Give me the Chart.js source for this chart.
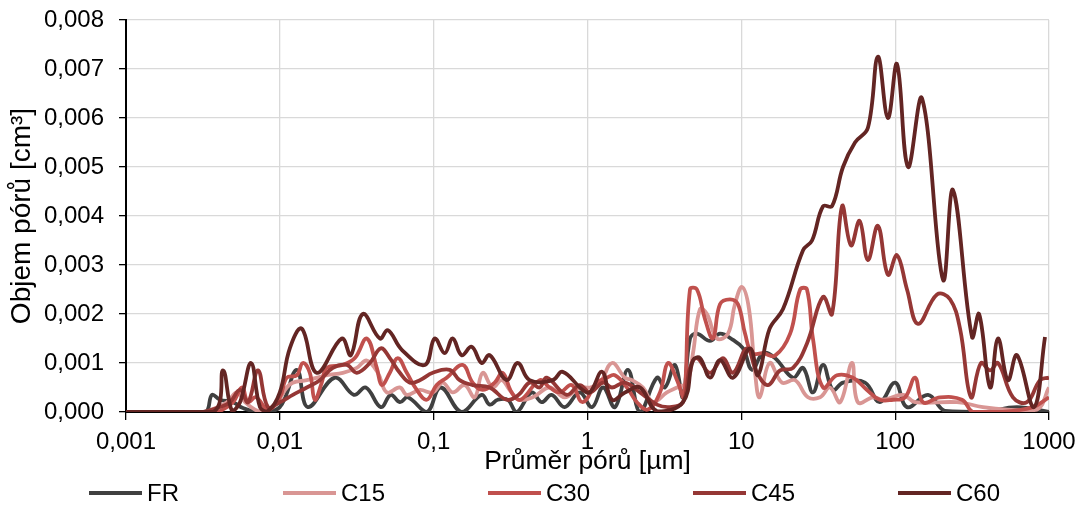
<!DOCTYPE html>
<html>
<head>
<meta charset="utf-8">
<title>Objem pórů</title>
<script src="https://cdn.jsdelivr.net/npm/chart.js@4.4.1/dist/chart.umd.min.js"></script>
<style>
    body { margin: 0; background: #fff; }
    #wrap { position: relative; width: 1083px; height: 510px; }
    #chart { display: block; }
    #legend { position: absolute; left: 0; top: 479px; width: 1083px; height: 28px;
              font: 24px "Liberation Sans", Arial, sans-serif; color: #000; }
    .item { position: absolute; top: 0; height: 28px; display: flex; align-items: center; white-space: nowrap; }
    .item .line { display: inline-block; width: 53px; height: 4px; margin-right: 5px; }
</style>
</head>
<body>
<div id="wrap">
    <canvas id="chart" width="1083" height="510"></canvas>
    <div id="legend"></div>
</div>
<script>
// osa x: průměr pórů [µm], log měřítko
const xTickValues = [0.001, 0.01, 0.1, 1, 10, 100, 1000];
const xTickLabels = ['0,001', '0,01', '0,1', '1', '10', '100', '1000'];

const seriesNames = ['FR', 'C15', 'C30', 'C45', 'C60'];
const seriesColors = ['#404040', '#D99694', '#C0504D', '#953735', '#632523'];

// FR
const frX = [0.001, 0.00303, 0.00336, 0.00362, 0.00408, 0.00496, 0.00576, 0.00743, 0.01, 0.01289, 0.0152, 0.02278,
    0.03028, 0.03622, 0.04534, 0.05266, 0.06026, 0.06791, 0.09022, 0.111, 0.152, 0.2051, 0.2312, 0.2607, 0.3028,
    0.3463, 0.4334, 0.5034, 0.5847, 0.7103, 0.8892, 1.07, 1.262, 1.508, 1.833, 2.194, 2.828, 3.187, 3.702, 4.177,
    4.637, 5.146, 6.255, 7.264, 8.827, 10.26, 11.74, 13.84, 16.56, 21.68, 25.18, 29.2, 33.97, 39.4, 45.8, 63.7,
    79.2, 100, 119.4, 163.5, 210.9, 372, 619, 1000];
const frY = [0, 0, 0.00002, 0.00035, 0.00025, 0.0002, 0.00008, 0, 0.0001, 0.00086, 0.0001, 0.0007,
    0.00035, 0.0005, 0.0001, 0.00035, 0.0002, 0.0003, 0, 0.0005, 0, 0.00035, 0.00015, 0.00025, 0.00025,
    0, 0.0004, 0.0002, 0.00035, 0.0001, 0.0004, 0.0001, 0.0005, 0.0001, 0.00086, 0, 0.0007, 0.0005, 0.00096, 0.0003,
    0.0015, 0.0016, 0.00145, 0.0016, 0.00147, 0.0013, 0.00086, 0.0012, 0.0011, 0.0007, 0.0009, 0.0004, 0.00096, 0.00045, 0.0006, 0.0006,
    0.0002, 0.0006, 0.0001, 0.00035, 0.00002, 0, 0.0001, 0];

// C15
const c15X = [0.001, 0.00326, 0.00362, 0.00453, 0.00527, 0.00594, 0.00689, 0.00777, 0.00958, 0.0111, 0.01215, 0.01497,
    0.0202, 0.02568, 0.03165, 0.03675, 0.04334, 0.04958, 0.06026, 0.06689, 0.08128, 0.09875, 0.1144, 0.1329, 0.159,
    0.1847, 0.2081, 0.2418, 0.2766, 0.3119, 0.3569, 0.44, 0.5676, 0.7103, 0.8892, 1.038, 1.206, 1.443, 1.752, 1.947,
    2.295, 2.666, 3.284, 3.814, 4.434, 4.851, 5.385, 5.977, 6.942, 8.189, 9.087, 10.1, 11.22, 12.28, 13.15, 15.27,
    18.39, 22.34, 27.1, 32.53, 37.68, 43.88, 52.4, 57.2, 71.8, 83.4, 112.5, 134.6, 252.3, 372, 533, 836, 1000];
const c15Y = [0, 0, 0.00005, 0.0002, 0.0004, 0.0002, 0.00005, 0, 0.0002, 0.0005, 0.0006, 0.00065,
    0.00075, 0.0008, 0.0009, 0.00105, 0.0008, 0.0004, 0.0005, 0.00035, 0.00045, 0.0004, 0.0006, 0.0004, 0.00055,
    0.0003, 0.0008, 0.0005, 0.00065, 0.00045, 0.00025, 0.0003, 0.0005, 0.0003, 0.0005, 0.0005, 0.0006, 0.001, 0.0007, 0.00065,
    0.0005, 0.0002, 0.0004, 0.0005, 0.0006, 0.0012, 0.0021, 0.002, 0.0015, 0.0016, 0.0022, 0.00255, 0.0021, 0.0008, 0.0003, 0.001,
    0.0006, 0.00065, 0.0003, 0.0003, 0.0005, 0.0002, 0.001, 0.0002, 0.0003, 0.00025, 0.00035, 0.0002, 0.0002, 0.0001, 0.00005, 0.00005, 0.0005];

// C30
const c30X = [0.001, 0.00357, 0.00408, 0.00496, 0.00568, 0.00621, 0.007, 0.00837, 0.01, 0.0111, 0.01289, 0.01411,
    0.01567, 0.01689, 0.01874, 0.0202, 0.02568, 0.03073, 0.03675, 0.04269, 0.04601, 0.05188, 0.05847, 0.06689, 0.07768,
    0.09022, 0.1046, 0.1215, 0.1543, 0.1792, 0.2081, 0.2492, 0.2808, 0.3213, 0.3675, 0.4887, 0.5676, 0.6592, 0.7887,
    0.9298, 1.152, 1.338, 1.508, 1.805, 2.096, 2.473, 2.959, 3.336, 3.875, 4.24, 4.637, 5.146, 5.8, 6.544, 7.264,
    8.437, 9.512, 10.57, 11.74, 13.84, 16.56, 20.76, 24.11, 26.71, 29.2, 33.97, 41.84, 53.2, 65.6, 79.2, 96.9,
    115.9, 134.6, 151.7, 195.7, 272, 321, 480, 787, 1000];
const c30Y = [0, 0, 0.00002, 0.0002, 0.0005, 0.0002, 0.0003, 0.00005, 0.0003, 0.0007, 0.00075, 0.001,
    0.0008, 0.00025, 0.0006, 0.0009, 0.00096, 0.0011, 0.0015, 0.0009, 0.00055, 0.0008, 0.0011, 0.0008, 0.00045,
    0.00025, 0.00055, 0.0007, 0.00096, 0.0006, 0.00045, 0.0006, 0.0008, 0.0004, 0.00025, 0.00065, 0.0005, 0.0004, 0.00055,
    0.0002, 0.0006, 0.0007, 0.00075, 0.0005, 0.0002, 0.00005, 0.0004, 0.001, 0.0006, 0.0003, 0.0025, 0.0025, 0.0019, 0.0015, 0.0022,
    0.0023, 0.0022, 0.0016, 0.0012, 0.0012, 0.00115, 0.0016, 0.0025, 0.0025, 0.0015, 0.0005, 0.00075, 0.0007, 0.00045, 0.00025, 0.00025,
    0.0003, 0.0007, 0.0002, 0.0003, 0.00025, 0, 0, 0.0001, 0.0003];

// C45
const c45X = [0.001, 0.00303, 0.00336, 0.00408, 0.00474, 0.00551, 0.00621, 0.00721, 0.00837, 0.01, 0.01215, 0.01497,
    0.0182, 0.02211, 0.02725, 0.03165, 0.03846, 0.04534, 0.05188, 0.06026, 0.06998, 0.08128, 0.09875, 0.1271, 0.1476,
    0.1792, 0.2312, 0.2982, 0.3569, 0.4208, 0.4887, 0.5427, 0.732, 0.8892, 1.038, 1.262, 1.443, 1.752, 2.194, 2.828,
    3.437, 4.177, 4.637, 5.146, 6.255, 7.6, 8.827, 10.89, 12.64, 14.9, 17.88, 21.68, 26.71, 33.97, 38.86, 45.14,
    51.6, 58.7, 66.5, 77.2, 89.7, 102.8, 119.4, 140.8, 187.1, 227.3, 264, 311, 361, 414, 466, 583, 719, 874, 1000];
const c45Y = [0, 0, 0.00002, 0.0001, 0.0002, 0.00045, 0.0002, 0.00085, 0.0001, 0.0002, 0.00035, 0.0005,
    0.00065, 0.0009, 0.00096, 0.0008, 0.001, 0.0013, 0.0011, 0.0008, 0.0006, 0.00065, 0.0008, 0.00086, 0.00065,
    0.00055, 0.0005, 0.00025, 0.00035, 0.0006, 0.0005, 0.0007, 0.00035, 0.00055, 0.0004, 0.0006, 0.0005, 0.0006, 0.0004, 0.00015,
    0.0001, 0.0002, 0.0009, 0.0011, 0.0008, 0.0011, 0.0008, 0.0013, 0.0008, 0.00055, 0.00085, 0.0009, 0.0014, 0.00235, 0.002, 0.0042,
    0.0034, 0.0039, 0.0031, 0.0038, 0.0028, 0.0032, 0.0025, 0.0018, 0.0024, 0.0023, 0.0017, 0.0003, 0.001, 0.00085, 0.001, 0.0003, 0.0002, 0.00065, 0.0007];

// C60
const c60X = [0.001, 0.00368, 0.00427, 0.00489, 0.00551, 0.0065, 0.00743, 0.00837, 0.01, 0.01161, 0.01389, 0.01739,
    0.02528, 0.02894, 0.03463, 0.04467, 0.05034, 0.06207, 0.08762, 0.1015, 0.1179, 0.1329, 0.152, 0.1766, 0.2051,
    0.2312, 0.2982, 0.3516, 0.4208, 0.5935, 0.6894, 0.9298, 1.038, 1.243, 1.443, 1.752, 2.194, 2.828, 4.177, 4.851,
    5.385, 6.255, 7.264, 8.827, 11.39, 12.83, 15.27, 18.66, 25.18, 28.81, 33.97, 38.86, 45.8, 54.8, 66.5, 77.2,
    89.7, 102.8, 121.2, 149.5, 204.6, 237.7, 316, 351, 414, 466, 541, 619, 799, 942];
const c60Y = [0, 0, 0.00085, 0.00002, 0.0002, 0.001, 0.0001, 0.00002, 0.0004, 0.0013, 0.0017, 0.0008,
    0.0015, 0.00116, 0.002, 0.0015, 0.00167, 0.00127, 0.00096, 0.0015, 0.0012, 0.0015, 0.00116, 0.00133, 0.001,
    0.00116, 0.00065, 0.001, 0.00065, 0.00065, 0.00082, 0.00045, 0.0004, 0.00082, 0.00025, 0.0004, 0.0005, 0.00002, 0.0002, 0.00106,
    0.0011, 0.0007, 0.00106, 0.0007, 0.0013, 0.00075, 0.0017, 0.0021, 0.0033, 0.0035, 0.0042, 0.0042, 0.005, 0.0055, 0.0058, 0.00725,
    0.006, 0.0071, 0.005, 0.0064, 0.0027, 0.00453, 0.00153, 0.002, 0.0005, 0.0015, 0.00065, 0.00116, 0.0001, 0.00153];

const seriesX = [frX, c15X, c30X, c45X, c60X];
const seriesY = [frY, c15Y, c30Y, c45Y, c60Y];

const FONT = '"Liberation Sans", Arial, sans-serif';
Chart.defaults.font.family = FONT;
Chart.defaults.color = '#000';

function toPoints(xs, ys) {
    return xs.map((x, i) => ({ x: x, y: ys[i] }));
}

const datasets = seriesNames.map((name, i) => ({
    label: name,
    data: toPoints(seriesX[i], seriesY[i]),
    borderColor: seriesColors[i],
    backgroundColor: seriesColors[i],
    borderWidth: 3.8,
    pointRadius: 0,
    showLine: true,
    tension: 0.4,
    fill: false,
    order: seriesNames.length - i   // C60 navrchu
}));

new Chart(document.getElementById('chart'), {
    type: 'scatter',
    data: { datasets: datasets },
    options: {
        responsive: false,
        animation: false,
        layout: { padding: { top: 20, right: 34, bottom: 32, left: 0 } },
        plugins: {
            legend: { display: false },
            tooltip: { enabled: false }
        },
        scales: {
            x: {
                type: 'logarithmic',
                min: 0.001,
                max: 1000,
                afterBuildTicks: function(scale) {
                    scale.ticks = xTickValues.map(v => ({ value: v }));
                },
                afterFit: function(scale) {
                    scale.height = 66;
                    scale.paddingLeft = 0;
                    scale.paddingRight = 0;
                },
                ticks: {
                    autoSkip: false,
                    maxRotation: 0,
                    padding: 8,
                    font: { size: 24 },
                    callback: function(value) {
                        const idx = xTickValues.indexOf(value);
                        return idx >= 0 ? xTickLabels[idx] : '';
                    }
                },
                grid: { color: '#D9D9D9', lineWidth: 1.3, tickColor: '#000', tickLength: 8 },
                border: { color: '#000', width: 2 },
                title: {
                    display: true,
                    text: 'Průměr pórů [µm]',
                    font: { size: 26.5 },
                    padding: { top: 0, bottom: 0 }
                }
            },
            y: {
                min: 0,
                max: 0.008,
                afterFit: function(scale) {
                    scale.width = 126;
                    scale.paddingTop = 0;
                    scale.paddingBottom = 0;
                },
                ticks: {
                    stepSize: 0.001,
                    padding: 15,
                    font: { size: 24 },
                    callback: function(value) {
                        return value.toFixed(3).replace('.', ',');
                    }
                },
                grid: { color: '#D9D9D9', lineWidth: 1.3, tickColor: '#000', tickLength: 7 },
                border: { color: '#000', width: 2 },
                title: {
                    display: true,
                    text: 'Objem pórů [cm³]',
                    font: { size: 28 },
                    padding: { top: 5, bottom: 0 }
                }
            }
        }
    }
});

// legenda (Excel: položky v pravidelných rozestupech)
const legendLeft = [89, 283, 488, 693, 898];
const legendDiv = document.getElementById('legend');
seriesNames.forEach((name, i) => {
    const item = document.createElement('div');
    item.className = 'item';
    item.style.left = legendLeft[i] + 'px';
    item.innerHTML = `<span class="line" style="background:${seriesColors[i]}"></span><span>${name}</span>`;
    legendDiv.appendChild(item);
});
</script>
</body>
</html>
